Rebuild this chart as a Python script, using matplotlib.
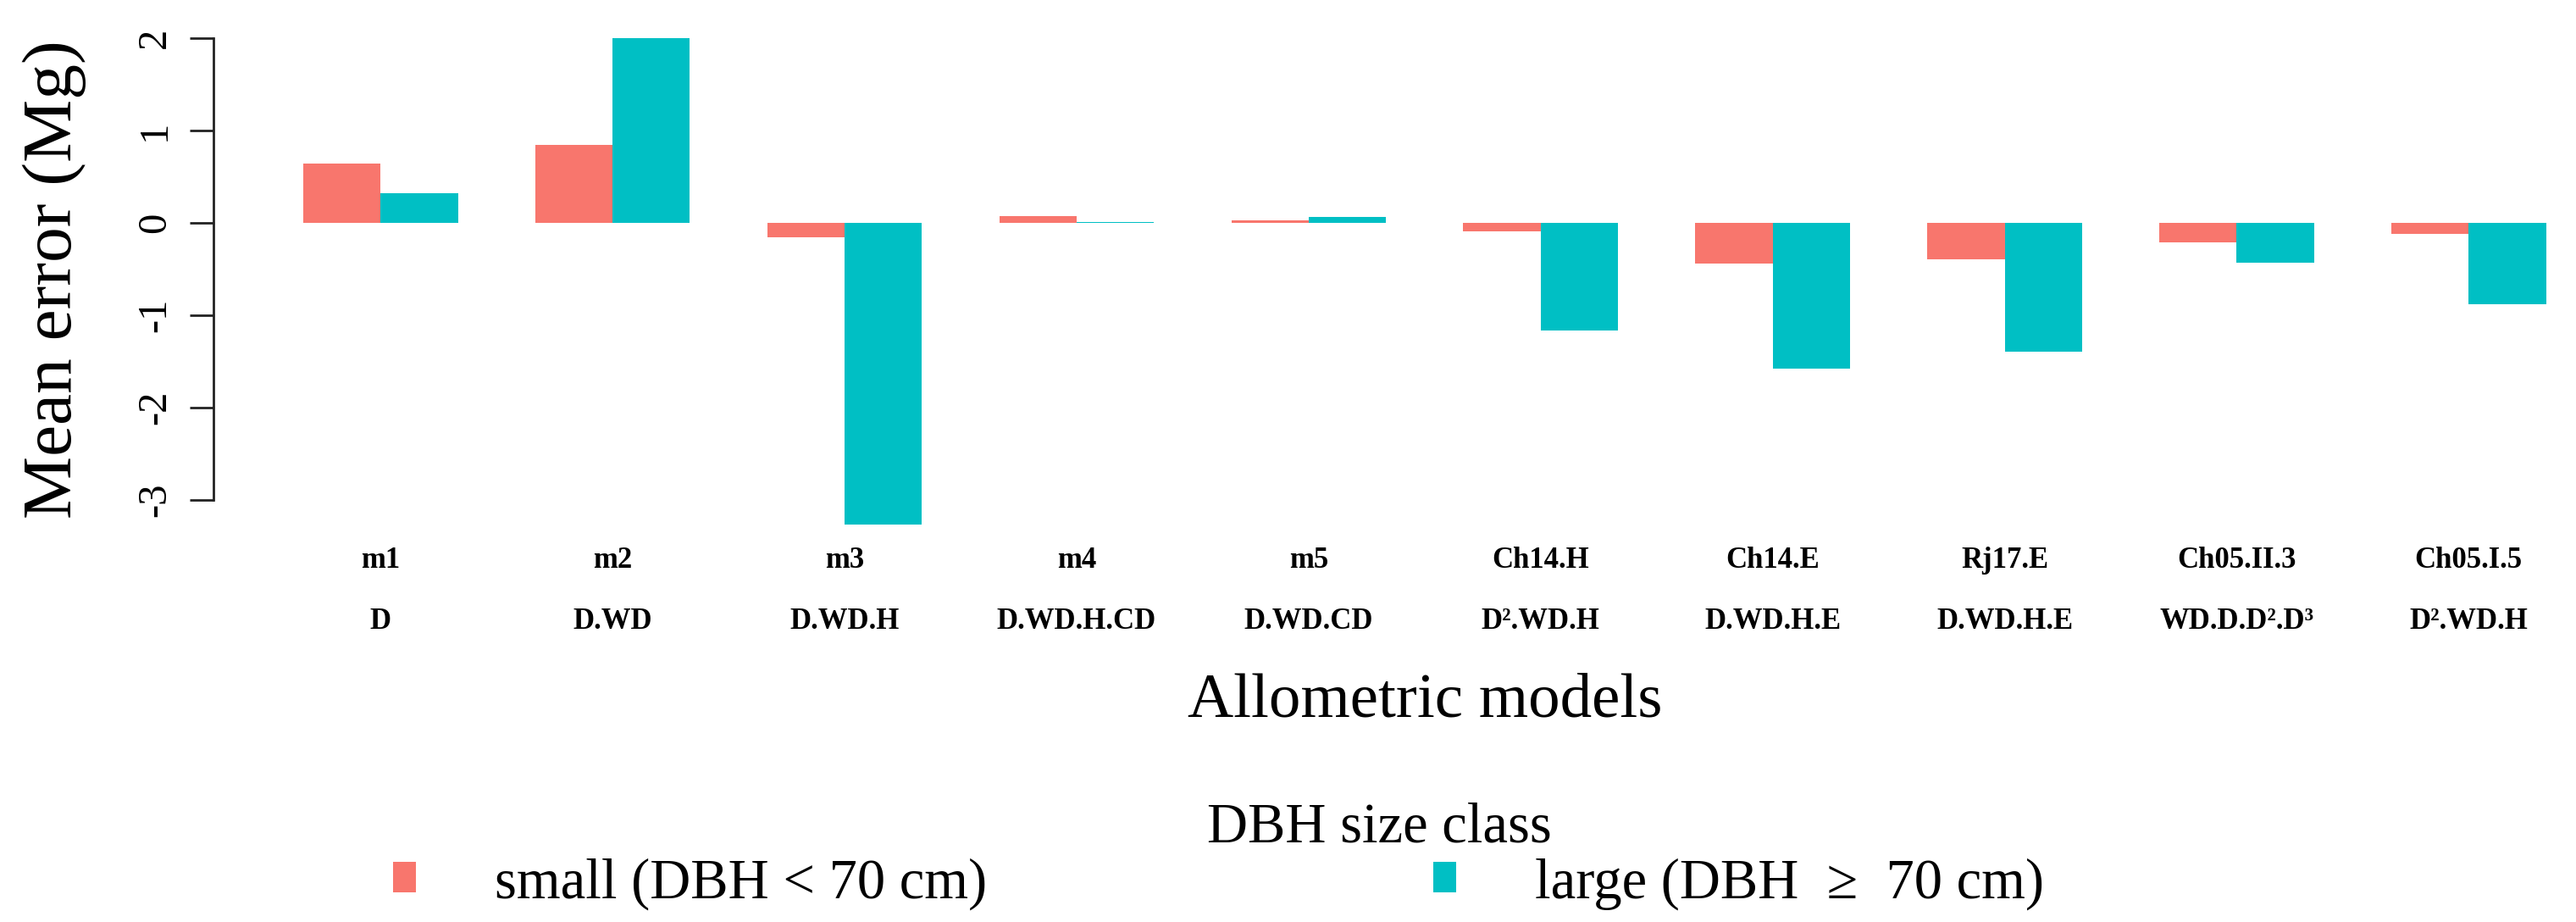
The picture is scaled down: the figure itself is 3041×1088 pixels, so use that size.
import matplotlib
matplotlib.use("Agg")
import matplotlib.pyplot as plt
import matplotlib.transforms as mtransforms
import numpy as np

# ---- data ----
model_ids = ["m1", "m2", "m3", "m4", "m5", "Ch14.H", "Ch14.E", "Rj17.E", "Ch05.II.3", "Ch05.I.5"]
model_vars = ["D", "D.WD", "D.WD.H", "D.WD.H.CD", "D.WD.CD", "D\u00b2.WD.H",
              "D.WD.H.E", "D.WD.H.E", "WD.D.D\u00b2.D\u00b3", "D\u00b2.WD.H"]
err_small = [0.64, 0.84, -0.16, 0.07, 0.03, -0.09, -0.44, -0.40, -0.21, -0.12]
err_large = [0.32, 2.00, -3.27, 0.01, 0.06, -1.17, -1.58, -1.40, -0.43, -0.88]
size_labels = ["small (DBH < 70 cm)", "large (DBH  \u2265  70 cm)"]
yticks = [-3, -2, -1, 0, 1, 2]

col_small = "#F8766D"
col_large = "#00BFC4"

plt.rcParams["font.family"] = ["Liberation Serif", "DejaVu Serif"]

W, H = 3041, 1088
fig = plt.figure(figsize=(W / 100, H / 100), dpi=100)

# plot region in pixels: axis line at x=252, y range 22..642
left_px, top_px, bot_px = 252, 22, 642
ax = fig.add_axes([left_px / W, 1 - bot_px / H, (W - left_px) / W, (bot_px - top_px) / H])

# grouped bars: one bar width gap between groups (like R barplot beside=TRUE)
idx = np.arange(len(model_ids))
centers = 2 + 3 * idx
b1 = ax.bar(centers - 0.5, err_small, width=1.0, color=col_small, linewidth=0, label=size_labels[0])
b2 = ax.bar(centers + 0.5, err_large, width=1.0, color=col_large, linewidth=0, label=size_labels[1])

ax.set_xlim(-0.16, -0.16 + (W - left_px) / 91.3)
ax.set_ylim(-3.48, 2.21)

for s in ["top", "right", "bottom"]:
    ax.spines[s].set_visible(False)
ax.spines["left"].set_bounds(-3, 2)
ax.spines["left"].set_linewidth(2)
ax.spines["left"].set_color("#222222")

ax.set_xticks([])
ax.set_yticks(yticks)
ax.set_yticklabels([str(v) for v in yticks], rotation=90, va="center", fontsize=35)
ax.tick_params(axis="y", length=20, width=2, color="#222222", pad=14)

# two rows of model labels under the bars
trans = mtransforms.blended_transform_factory(ax.transData, fig.transFigure)
for c, name, var in zip(centers, model_ids, model_vars):
    ax.text(c, 1 - 670 / H, name, transform=trans, ha="center", va="baseline",
            fontsize=25, fontweight="bold")
    ax.text(c, 1 - 742 / H, var, transform=trans, ha="center", va="baseline",
            fontsize=25, fontweight="bold")

ax.text(15.5, 1 - 846 / H, "Allometric models", transform=trans, ha="center",
        va="baseline", fontsize=54)

fig.text(84 / W, 1 - 330 / H, "Mean error (Mg)", rotation=90, rotation_mode="anchor",
         ha="center", va="baseline", fontsize=60)

# legend
fig.text(1628 / W, 1 - 993 / H, "DBH size class", ha="center", va="baseline", fontsize=48)
fig.legend(handles=[b1, b2], loc="upper left", bbox_to_anchor=(464 / W, 1 - 1012 / H),
           ncol=2, frameon=False, fontsize=48, borderpad=0, borderaxespad=0,
           handlelength=0.41, handleheight=0.45, handletextpad=1.39, columnspacing=7.9)

fig.savefig("out.png", dpi=100)
